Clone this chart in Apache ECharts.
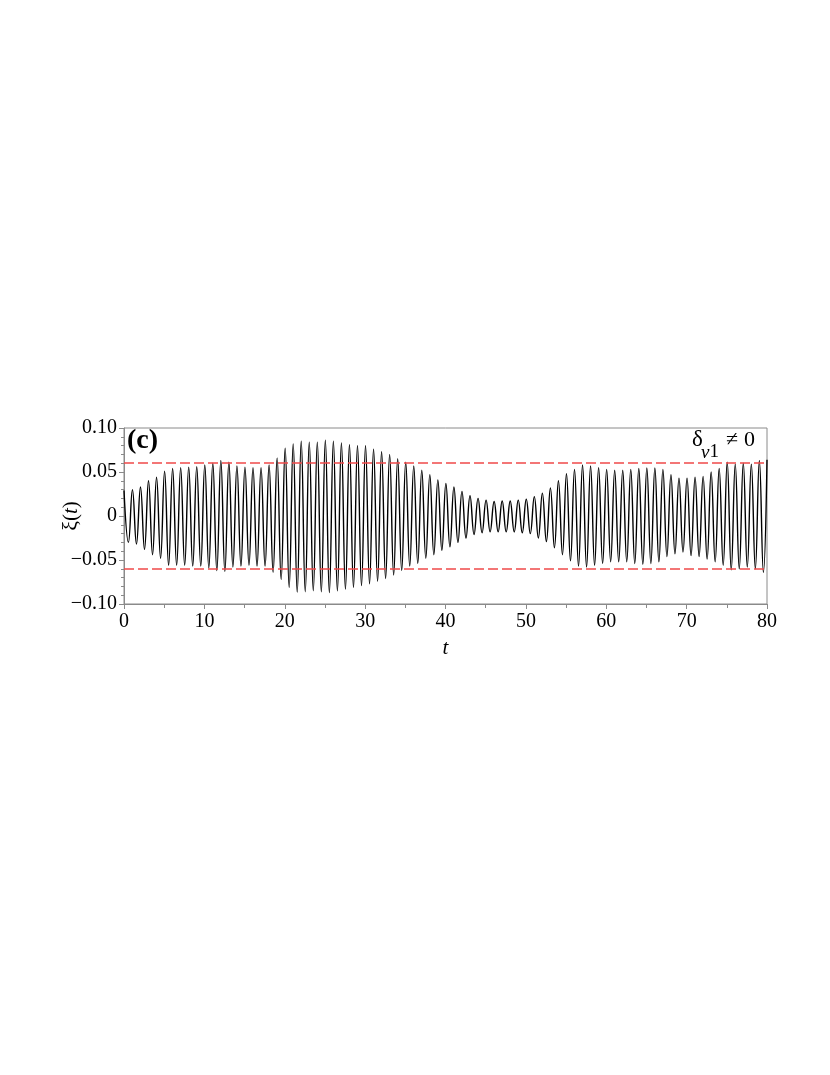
<!DOCTYPE html>
<html>
<head>
<meta charset="utf-8">
<title>xi(t)</title>
<script src="https://cdn.jsdelivr.net/npm/echarts@6/dist/echarts.min.js"></script>
<style>
  html, body { margin: 0; padding: 0; background: #fff; }
  #chart { width: 830px; height: 1075px; }
</style>
</head>
<body>
<div id="chart"></div>
<script>
// maxima of xi(t) (about one per unit of t)
const peakT = [
  0, 1.05, 2.05, 3.05, 4.05, 5.05, 6.05, 7.05, 8.05, 9.05,
  10.05, 11.05, 12.05, 13.05, 14.05, 15.05, 16.05, 17.05, 18.05, 19.05,
  20.05, 21.05, 22.05, 23.05, 24.05, 25.05, 26.05, 27.05, 28.05, 29.05,
  30.05, 31.05, 32.05, 33.05, 34.05, 35.05, 36.05, 37.05, 38.05, 39.05,
  40.05, 41.05, 42.05, 43.05, 44.05, 45.05, 46.05, 47.05, 48.05, 49.05,
  50.05, 51.05, 52.05, 53.05, 54.05, 55.05, 56.05, 57.05, 58.05, 59.05,
  60.05, 61.05, 62.05, 63.05, 64.05, 65.05, 66.05, 67.05, 68.05, 69.05,
  70.05, 71.05, 72.05, 73.05, 74.05, 75.05, 76.05, 77.05, 78.05, 79.05,
  80
];
const peakXi = [
  0.029, 0.030, 0.033, 0.040, 0.044, 0.051, 0.054, 0.055, 0.0555, 0.056,
  0.058, 0.060, 0.063, 0.061, 0.057, 0.0555, 0.055, 0.055, 0.058, 0.066,
  0.077, 0.082, 0.085, 0.084, 0.084, 0.086, 0.085, 0.083, 0.081, 0.080,
  0.080, 0.076, 0.073, 0.070, 0.065, 0.061, 0.057, 0.052, 0.047, 0.041,
  0.037, 0.033, 0.028, 0.023, 0.020, 0.018, 0.0165, 0.017, 0.017, 0.018,
  0.019, 0.022, 0.026, 0.032, 0.040, 0.048, 0.053, 0.058, 0.057, 0.055,
  0.053, 0.052, 0.052, 0.053, 0.054, 0.0545, 0.0545, 0.053, 0.047, 0.043,
  0.043, 0.044, 0.045, 0.050, 0.054, 0.061, 0.059, 0.060, 0.059, 0.063,
  0.064
];

// minima of xi(t)
const troughT = [
  0.55, 1.55, 2.55, 3.55, 4.55, 5.55, 6.55, 7.55, 8.55, 9.55,
  10.55, 11.55, 12.55, 13.55, 14.55, 15.55, 16.55, 17.55, 18.55, 19.55,
  20.55, 21.55, 22.55, 23.55, 24.55, 25.55, 26.55, 27.55, 28.55, 29.55,
  30.55, 31.55, 32.55, 33.55, 34.55, 35.55, 36.55, 37.55, 38.55, 39.55,
  40.55, 41.55, 42.55, 43.55, 44.55, 45.55, 46.55, 47.55, 48.55, 49.55,
  50.55, 51.55, 52.55, 53.55, 54.55, 55.55, 56.55, 57.55, 58.55, 59.55,
  60.55, 61.55, 62.55, 63.55, 64.55, 65.55, 66.55, 67.55, 68.55, 69.55,
  70.55, 71.55, 72.55, 73.55, 74.55, 75.55, 76.55, 77.55, 78.55, 79.55
];
const troughXi = [
  -0.030, -0.032, -0.038, -0.044, -0.048, -0.056, -0.056, -0.056, -0.057, -0.057,
  -0.059, -0.062, -0.063, -0.058, -0.057, -0.056, -0.057, -0.057, -0.064, -0.072,
  -0.081, -0.0865, -0.086, -0.085, -0.086, -0.087, -0.085, -0.083, -0.081, -0.079,
  -0.077, -0.074, -0.071, -0.067, -0.062, -0.057, -0.054, -0.048, -0.044, -0.039,
  -0.035, -0.030, -0.025, -0.021, -0.019, -0.018, -0.018, -0.018, -0.018, -0.019,
  -0.020, -0.025, -0.029, -0.036, -0.044, -0.051, -0.057, -0.058, -0.056, -0.054,
  -0.052, -0.052, -0.052, -0.054, -0.055, -0.054, -0.052, -0.046, -0.043, -0.041,
  -0.045, -0.046, -0.049, -0.052, -0.056, -0.061, -0.060, -0.058, -0.060, -0.064
];

// red dashed reference levels
const bandLevels = [0.058, -0.058];

const xTicks = [0, 10, 20, 30, 40, 50, 60, 70, 80];
const yTicks = [-0.1, -0.05, 0, 0.05, 0.1];

// merge maxima and minima into one curve, in time order
let curve = [];
for (let i = 0; i < peakT.length; i++) curve.push([peakT[i], peakXi[i]]);
for (let i = 0; i < troughT.length; i++) curve.push([troughT[i], troughXi[i]]);
curve.sort((a, b) => a[0] - b[0]);

const serif = "Liberation Serif";
const frameColor = "#8a8a8a";

const chart = echarts.init(document.getElementById("chart"), null, { renderer: "canvas" });

chart.setOption({
  backgroundColor: "#fff",
  animation: false,
  grid: {
    left: 124,
    right: 63,
    top: 428,
    bottom: 471,
    show: true,
    borderColor: frameColor,
    borderWidth: 1,
    containLabel: false,
  },
  xAxis: {
    type: "value",
    min: xTicks[0],
    max: xTicks[xTicks.length - 1],
    interval: 10,
    name: "t",
    nameLocation: "middle",
    nameGap: 34,
    nameTextStyle: { fontFamily: serif, fontSize: 21, fontStyle: "italic", color: "#000" },
    axisLine: { onZero: false, lineStyle: { color: frameColor, width: 1 } },
    axisTick: { length: 5, lineStyle: { color: frameColor } },
    minorTick: { show: true, splitNumber: 2, length: 4, lineStyle: { color: frameColor } },
    axisLabel: { fontFamily: serif, fontSize: 20, color: "#000", margin: 8 },
    splitLine: { show: false },
  },
  yAxis: {
    type: "value",
    min: yTicks[0],
    max: yTicks[yTicks.length - 1],
    interval: 0.05,
    name: "{g|ξ}({i|t})",
    nameLocation: "middle",
    nameRotate: 90,
    nameGap: 42,
    nameMoveOverlap: false,
    nameTextStyle: {
      fontFamily: serif,
      fontSize: 21,
      color: "#000",
      rich: {
        g: { fontFamily: serif, fontSize: 22, color: "#000" },
        i: { fontFamily: serif, fontSize: 21, fontStyle: "italic", color: "#000" },
      },
    },
    axisLine: { onZero: false, lineStyle: { color: frameColor, width: 1 } },
    axisTick: { length: 5, lineStyle: { color: frameColor } },
    minorTick: { show: true, splitNumber: 5, length: 3, lineStyle: { color: frameColor } },
    axisLabel: {
      fontFamily: serif,
      fontSize: 20,
      color: "#000",
      margin: 7,
      formatter: (v) => {
        if (Math.abs(v) < 1e-9) return "0";
        return v.toFixed(2).replace("-", "\u2212");
      },
    },
    splitLine: { show: false },
  },
  graphic: [
    {
      type: "text",
      left: 127,
      top: 427,
      style: { text: "(c)", fontFamily: serif, fontSize: 28, fontWeight: "bold", fill: "#000" },
    },
    {
      type: "text",
      left: 692,
      top: 428,
      style: { text: "δ", fontFamily: serif, fontSize: 23, fill: "#000" },
    },
    {
      type: "text",
      left: 701,
      top: 443,
      style: {
        text: "{v|v}{n|1}",
        rich: {
          v: { fontFamily: serif, fontSize: 19, fontStyle: "italic", fill: "#000" },
          n: { fontFamily: serif, fontSize: 19, fill: "#000" },
        },
      },
    },
    {
      type: "text",
      left: 726,
      top: 429,
      style: { text: "≠", fontFamily: serif, fontSize: 22, fill: "#000" },
    },
    {
      type: "text",
      left: 744,
      top: 429,
      style: { text: "0", fontFamily: serif, fontSize: 22, fill: "#000" },
    },
  ],
  series: [
    {
      type: "line",
      data: curve,
      showSymbol: false,
      smooth: 0.45,
      clip: true,
      lineStyle: { color: "#000", width: 1.4 },
      markLine: {
        silent: true,
        symbol: "none",
        label: { show: false },
        lineStyle: { color: "#ef4a4a", type: [10, 4], width: 1.5 },
        data: bandLevels.map((v) => ({ yAxis: v })),
        z: 5,
      },
      z: 3,
    },
  ],
});
</script>
</body>
</html>
